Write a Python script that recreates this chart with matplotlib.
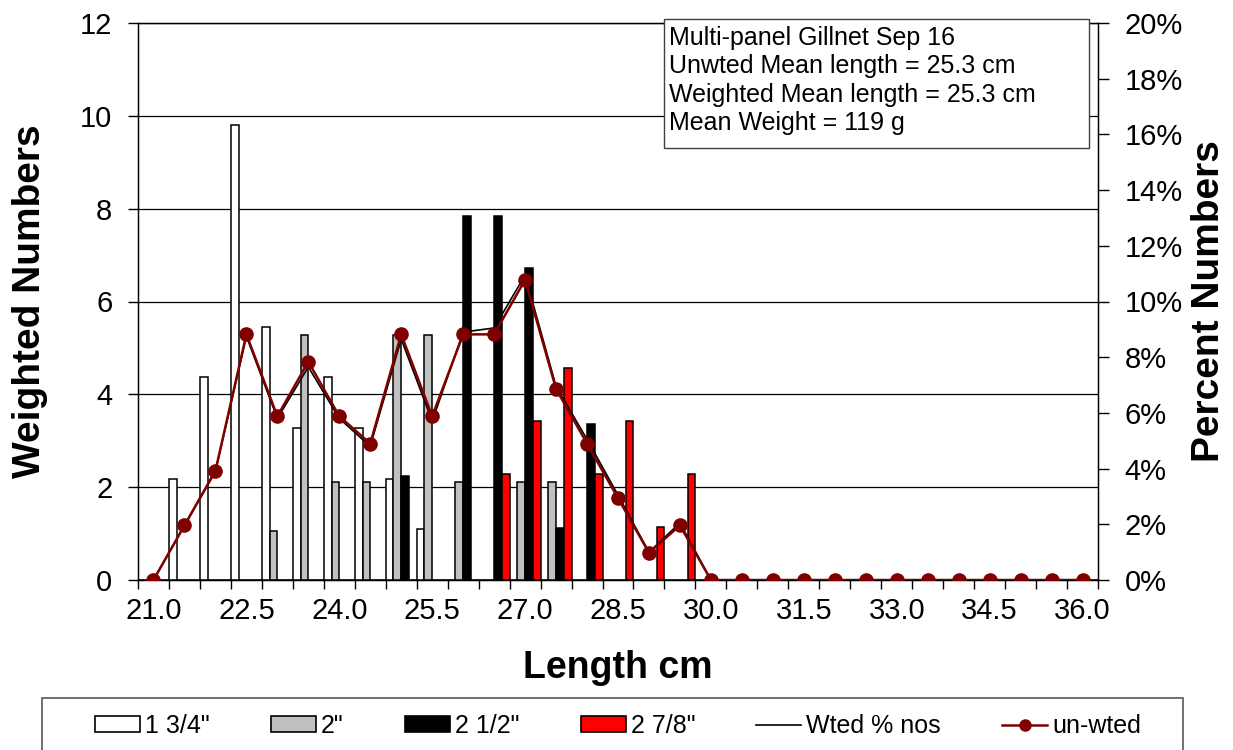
import matplotlib
matplotlib.use("Agg")
import matplotlib.pyplot as plt
from matplotlib.patches import Patch, Rectangle
from matplotlib.lines import Line2D
from matplotlib.ticker import FuncFormatter
import numpy as np

plt.rcParams['font.family'] = ['Liberation Sans', 'DejaVu Sans']

# length classes (cm)
lengths = ["21.0", "21.5", "22.0", "22.5", "23.0", "23.5", "24.0", "24.5", "25.0", "25.5",
           "26.0", "26.5", "27.0", "27.5", "28.0", "28.5", "29.0", "29.5", "30.0", "30.5",
           "31.0", "31.5", "32.0", "32.5", "33.0", "33.5", "34.0", "34.5", "35.0", "35.5", "36.0"]

# weighted numbers per mesh size
mesh_134 = [0, 2.18, 4.37, 9.8, 5.45, 3.28, 4.37, 3.28, 2.18, 1.09, 0, 0, 0, 0, 0, 0,
            0, 0, 0, 0, 0, 0, 0, 0, 0, 0, 0, 0, 0, 0, 0]
mesh_2 = [0, 0, 0, 0, 1.06, 5.28, 2.12, 2.12, 5.28, 5.28, 2.12, 0, 2.12, 2.12, 0, 0,
          0, 0, 0, 0, 0, 0, 0, 0, 0, 0, 0, 0, 0, 0, 0]
mesh_212 = [0, 0, 0, 0, 0, 0, 0, 0, 2.24, 0, 7.84, 7.84, 6.72, 1.12, 3.36, 0,
            0, 0, 0, 0, 0, 0, 0, 0, 0, 0, 0, 0, 0, 0, 0]
mesh_278 = [0, 0, 0, 0, 0, 0, 0, 0, 0, 0, 0, 2.28, 3.42, 4.56, 2.28, 3.42,
            1.14, 2.28, 0, 0, 0, 0, 0, 0, 0, 0, 0, 0, 0, 0, 0]

# percent numbers
wted_pct = [0, 1.95, 3.9, 8.75, 5.8, 7.65, 5.8, 4.8, 8.65, 5.7, 8.9, 9.05, 10.95, 6.95,
            5.05, 3.05, 1.0, 2.05, 0, 0, 0, 0, 0, 0, 0, 0, 0, 0, 0, 0, 0]
unwted_pct = [0, 1.96, 3.92, 8.82, 5.88, 7.84, 5.88, 4.90, 8.82, 5.88, 8.82, 8.82, 10.78,
              6.86, 4.90, 2.94, 0.98, 1.96, 0, 0, 0, 0, 0, 0, 0, 0, 0, 0, 0, 0, 0]

series = [(mesh_134, 'white', '1 3/4"'),
          (mesh_2, '#c0c0c0', '2"'),
          (mesh_212, 'black', '2 1/2"'),
          (mesh_278, '#ff0000', '2 7/8"')]
dark_red = '#800000'

W, H = 1233, 750
fig = plt.figure(figsize=(W / 100, H / 100), dpi=100)
ax = fig.add_axes([138 / W, 1 - 580 / H, 960 / W, 557 / H])

x = np.arange(len(lengths))
bw = 0.25
for k, (vals, col, lab) in enumerate(series):
    ax.bar(x - 0.5 + bw / 2 + k * bw, vals, width=bw, color=col, edgecolor='black',
           linewidth=1.1, zorder=3)

ax.set_xlim(-0.5, len(lengths) - 0.5)
ax.set_ylim(0, 12)
ax.set_yticks(range(0, 13, 2))
ax.yaxis.grid(True, color='black', linewidth=0.9, zorder=0)
ax.set_axisbelow(True)

# tick marks at class boundaries, labels every third class
ax.set_xticks(np.arange(-0.5, len(lengths), 1.0))
ax.set_xticklabels([])
ax.set_xticks(x[::3], [lengths[i] for i in x[::3]], minor=True)
ax.tick_params(axis='x', which='major', direction='out', length=6.5, width=1)
ax.tick_params(axis='x', which='minor', length=0, labelsize=21, pad=12)
ax.tick_params(axis='y', direction='out', length=7.5, width=1, labelsize=21, pad=11)
for s in ax.spines.values():
    s.set_linewidth(1.0)

ax.set_xlabel('Length cm', fontsize=27, fontweight='bold', labelpad=18)
ax.set_ylabel('Weighted Numbers', fontsize=28, fontweight='bold', labelpad=23)

ax2 = ax.twinx()
ax2.set_ylim(0, 20)
ax2.set_yticks(range(0, 21, 2))
ax2.yaxis.set_major_formatter(FuncFormatter(lambda v, p: f'{v:.0f}%'))
ax2.tick_params(axis='y', direction='out', length=8, width=1, labelsize=21, pad=11)
ax2.plot(x, wted_pct, color='black', linewidth=1.2, zorder=4)
ax2.plot(x, unwted_pct, color=dark_red, linewidth=1.8, marker='o', markersize=9.5, zorder=5)
ax2.set_ylabel('Percent Numbers', fontsize=28, fontweight='bold', labelpad=6)

# info box
fig.patches.append(Rectangle((664 / W, 1 - 148 / H), 425 / W, 129 / H,
                             transform=fig.transFigure, facecolor='white',
                             edgecolor='#404040', linewidth=1.0, zorder=10))
info = ["Multi-panel Gillnet Sep 16",
        "Unwted Mean length = 25.3 cm",
        "Weighted Mean length = 25.3 cm",
        "Mean Weight = 119 g"]
for i, line in enumerate(info):
    fig.text(669 / W, 1 - (38 + 28.3 * i) / H, line, fontsize=18,
             va='center', ha='left', zorder=11)

# legend frame runs off the bottom edge
fig.patches.append(Rectangle((42 / W, -0.03), 1141 / W, 0.03 + 52 / H,
                             transform=fig.transFigure, facecolor='white',
                             edgecolor='#595959', linewidth=1.2, zorder=1))
handles = [Patch(facecolor=c, edgecolor='black', linewidth=1.2, label=l) for _, c, l in series]
handles.append(Line2D([], [], color='black', linewidth=1.2, label='Wted % nos'))
handles.append(Line2D([], [], color=dark_red, linewidth=1.8, marker='o', markersize=8,
                      label='un-wted'))
leg = fig.legend(handles=handles, ncol=6, loc='center',
                 bbox_to_anchor=(618 / W, 1 - 726 / H), fontsize=18, frameon=False,
                 handlelength=1.8, handleheight=0.6, handletextpad=0.2,
                 columnspacing=2.45, borderpad=0)

fig.savefig('out.png', dpi=100)
